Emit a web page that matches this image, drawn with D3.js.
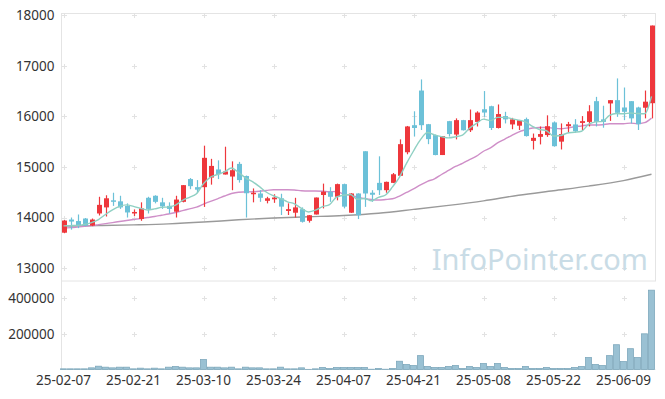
<!DOCTYPE html>
<html>
<head>
<meta charset="utf-8">
<script src="https://cdn.jsdelivr.net/npm/d3@7"></script>
<style>
  body { margin: 0; background: #fff; }
  text { font-family: "Noto Sans", "Open Sans", sans-serif; }
</style>
</head>
<body>
<script>
// trading days (yy-mm-dd)
const dates = [
  "25-02-07", "25-02-10", "25-02-11", "25-02-12", "25-02-13", "25-02-14",
  "25-02-17", "25-02-18", "25-02-19", "25-02-20", "25-02-21",
  "25-02-24", "25-02-25", "25-02-26", "25-02-27", "25-02-28",
  "25-03-04", "25-03-05", "25-03-06", "25-03-07",
  "25-03-10", "25-03-11", "25-03-12", "25-03-13", "25-03-14",
  "25-03-17", "25-03-18", "25-03-19", "25-03-20", "25-03-21",
  "25-03-24", "25-03-25", "25-03-26", "25-03-27", "25-03-28",
  "25-03-31", "25-04-01", "25-04-02", "25-04-03", "25-04-04",
  "25-04-07", "25-04-08", "25-04-09", "25-04-10", "25-04-11",
  "25-04-14", "25-04-15", "25-04-16", "25-04-17", "25-04-18",
  "25-04-21", "25-04-22", "25-04-23", "25-04-24", "25-04-25",
  "25-04-28", "25-04-29", "25-04-30", "25-05-02", "25-05-07",
  "25-05-08", "25-05-09",
  "25-05-12", "25-05-13", "25-05-14", "25-05-15", "25-05-16",
  "25-05-19", "25-05-20", "25-05-21", "25-05-22", "25-05-23",
  "25-05-26", "25-05-27", "25-05-28", "25-05-29", "25-05-30",
  "25-06-02", "25-06-04", "25-06-05",
  "25-06-09", "25-06-10", "25-06-11", "25-06-12", "25-06-13"
];

const opens = [
  13700, 13960, 13930, 13980, 13840, 14080, 14200, 14340, 14320, 14230,
  14080, 13970, 14390, 14430, 14300, 14230, 14115, 14310, 14760, 14600,
  14600, 14790, 14950, 14850, 14810, 15060, 14820, 14460, 14475, 14330,
  14360, 14380, 14130, 14095, 14165, 13935, 14060, 14445, 14510, 14410,
  14660, 14095, 14475, 15310, 14490, 14685, 14540, 14685, 14825, 15290,
  15825, 16510, 15845, 15630, 15235, 15905, 15640, 15925, 15725, 15890,
  16140, 16200, 15770, 16005, 15840, 15815, 15945, 15515, 15595, 15630,
  15880, 15500, 15805, 15840, 15870, 15890, 16300, 15940, 16255, 16320,
  16175, 16300, 16175, 16170, 16260
];
const highs = [
  13950, 14000, 14060, 13990, 13980, 14410, 14440, 14490, 14430, 14280,
  14160, 14300, 14410, 14440, 14390, 14300, 14430, 14640, 14780, 14740,
  15420, 15160, 15130, 15400, 15110, 15100, 14830, 14575, 14540, 14410,
  14460, 14470, 14280, 14390, 14200, 14050, 14395, 14670, 14600, 14670,
  14670, 14480, 14480, 15310, 14540, 15210, 14710, 14880, 15545, 15810,
  16100, 16730, 15850, 15640, 15610, 15910, 15960, 15930, 16135, 16100,
  16500, 16210, 16235, 16090, 15970, 15930, 15975, 15660, 15800, 16020,
  15900, 15860, 15890, 15945, 16005, 16220, 16385, 16210, 16320, 16750,
  16570, 16300, 16190, 16510, 17795
];
const lows = [
  13690, 13760, 13790, 13830, 13830, 14040, 14020, 14230, 14170, 14000,
  14030, 13935, 14080, 14280, 14170, 14080, 14000, 14300, 14560, 14480,
  14210, 14650, 14760, 14850, 14540, 14690, 14000, 14300, 14310, 14280,
  14290, 14050, 14050, 14000, 13900, 13900, 14060, 14180, 14310, 14340,
  14180, 14090, 13970, 14210, 14310, 14445, 14490, 14680, 14820, 15250,
  15600, 15730, 15450, 15230, 15235, 15600, 15545, 15720, 15690, 15800,
  15990, 15730, 15760, 15860, 15745, 15730, 15600, 15345, 15445, 15595,
  15400, 15345, 15675, 15675, 15725, 15800, 15800, 15775, 15910, 15990,
  15925, 15860, 15730, 15960, 15960
];
const closes = [
  13940, 13920, 13850, 13840, 13960, 14250, 14380, 14310, 14200, 14100,
  14110, 14180, 14170, 14310, 14220, 14170, 14355, 14640, 14620, 14550,
  15180, 15020, 14860, 14910, 14935, 14740, 14480, 14490, 14390, 14380,
  14395, 14215, 14165, 14200, 13915, 14045, 14395, 14510, 14410, 14660,
  14215, 14475, 14045, 14475, 14450, 14540, 14705, 14855, 15450, 15800,
  15770, 15825, 15550, 15235, 15610, 15650, 15925, 15725, 15925, 16075,
  16075, 15770, 16045, 15940, 15940, 15925, 15610, 15575, 15650, 15805,
  15410, 15650, 15845, 15705, 15905, 16100, 15890, 15890, 16320, 16070,
  16090, 15960, 15845, 16290, 17795
];
const volumes = [
  3700, 3700, 3700, 3700, 9300, 18500, 13000, 9300, 13000, 13000,
  3700, 7400, 3700, 7400, 3700, 13000, 16700, 13000, 9300, 9300,
  55600, 13000, 13000, 9300, 13000, 3700, 13000, 9300, 9300, 3700,
  3700, 13000, 3700, 3700, 9300, 800, 3700, 11100, 5600, 11100,
  11100, 11100, 11100, 11100, 1500, 5600, 1500, 5600, 46300, 27800,
  22200, 77800, 16700, 11100, 11100, 16700, 22200, 5600, 16700, 11100,
  33300, 16700, 33300, 11100, 5600, 5600, 16700, 5600, 5600, 11100,
  5600, 5600, 5600, 11100, 16700, 66700, 27800, 22200, 77800, 138900,
  44400, 116700, 66700, 200000, 444500
];

// moving averages as seen on the chart
const ma5 = [
  13835, 13840, 13845, 13865, 13900, 13960, 14060, 14150, 14220, 14250,
  14220, 14180, 14150, 14170, 14200, 14210, 14245, 14340, 14400, 14470,
  14670, 14800, 14850, 14900, 14980, 14890, 14785, 14710, 14610, 14500,
  14430, 14375, 14310, 14270, 14180, 14110, 14145, 14215, 14255, 14405,
  14440, 14455, 14360, 14375, 14330, 14400, 14445, 14605, 14800, 15070,
  15315, 15540, 15680, 15635, 15600, 15575, 15595, 15630, 15765, 15860,
  15945, 15915, 15980, 15980, 15955, 15925, 15890, 15800, 15740, 15715,
  15610, 15620, 15670, 15685, 15705, 15840, 15890, 15900, 16020, 16055,
  16050, 16065, 16055, 16050, 16395
];
const ma20 = [
  13790, 13800, 13810, 13825, 13840, 13860, 13880, 13900, 13920, 13940,
  13960, 13980, 14000, 14020, 14045, 14070, 14100, 14135, 14170, 14205,
  14265, 14320, 14370, 14425, 14475, 14500, 14505, 14510, 14520, 14535,
  14550, 14550, 14550, 14545, 14530, 14525, 14525, 14520, 14510, 14515,
  14465, 14440, 14400, 14375, 14355, 14345, 14355, 14370, 14425, 14495,
  14565, 14645, 14715, 14765, 14850, 14930, 15010, 15070, 15145, 15215,
  15310, 15375, 15475, 15545, 15620, 15690, 15735, 15770, 15780, 15780,
  15765, 15755, 15770, 15795, 15810, 15830, 15830, 15835, 15855, 15855,
  15855, 15865, 15855, 15875, 15965
];
// long average, read at a few points along the line
const maLongIdx = [0, 5, 10, 15, 20, 25, 30, 35, 40, 45, 50, 55, 60, 65, 70, 75, 80, 84];
const maLongVals = [
  13830, 13840, 13855, 13875, 13910, 13955, 13990, 14015, 14040, 14085,
  14160, 14240, 14330, 14440, 14530, 14620, 14730, 14855
];

const yTicks = [13000, 14000, 15000, 16000, 17000, 18000];
const volTicks = [200000, 400000];
const xTickLabels = ["25-02-07", "25-02-21", "25-03-10", "25-03-24", "25-04-07",
  "25-04-21", "25-05-08", "25-05-22", "25-06-09"];

// create svg canvas
const canvWidth = 665, canvHeight = 399;
const svg = d3.select("body").append("svg")
    .attr("width", canvWidth)
    .attr("height", canvHeight);

const plot = { left: 61.5, right: 655.5, top: 13.5, mid: 281, bottom: 369.5 };
const upColor = "#ee373c", downColor = "#6cc1d8";

// scales
const x = d3.scaleBand()
    .domain(dates)
    .range([60, 655]);
const cx = d => x(d) + x.bandwidth() / 2;
const y = d3.scaleLinear()
    .domain([12745, 18033])
    .range([plot.mid, plot.top]);
const yVol = d3.scaleLinear()
    .domain([0, 496000])
    .range([plot.bottom, plot.mid]);

// frame lines
const frame = svg.append("g").attr("stroke", "#e4e4e4").attr("stroke-width", 1).attr("fill", "none");
frame.append("rect")
    .attr("x", plot.left).attr("y", plot.top)
    .attr("width", plot.right - plot.left).attr("height", plot.mid - plot.top);
frame.append("line")
    .attr("x1", plot.left).attr("x2", plot.left)
    .attr("y1", plot.mid).attr("y2", plot.bottom);
frame.append("line")
    .attr("x1", plot.left).attr("x2", plot.right)
    .attr("y1", plot.bottom).attr("y2", plot.bottom);

// small "+" marks at the grid crossings
const marks = svg.append("g").attr("stroke", "#e2e2e2").attr("stroke-width", 1);
const markYs = yTicks.map(v => y(v)).concat(volTicks.map(v => yVol(v)));
xTickLabels.forEach(lbl => {
  markYs.forEach(my => {
    const mx = Math.round(cx(lbl)) + 0.5, yy = Math.round(my) + 0.5;
    marks.append("line").attr("x1", mx - 2.5).attr("x2", mx + 2.5).attr("y1", yy).attr("y2", yy);
    marks.append("line").attr("x1", mx).attr("x2", mx).attr("y1", yy - 2.5).attr("y2", yy + 2.5);
  });
});

// watermark
svg.append("text")
    .attr("x", 648)
    .attr("y", 270)
    .attr("text-anchor", "end")
    .attr("font-size", "29px")
    .attr("fill", "#c9dce6")
    .text("InfoPointer.com");

// volume bars
svg.append("g").selectAll("rect")
    .data(dates)
    .enter()
    .append("rect")
    .attr("x", d => x(d) + 0.5)
    .attr("y", (d, i) => yVol(volumes[i]))
    .attr("width", x.bandwidth() - 1)
    .attr("height", (d, i) => plot.bottom - yVol(volumes[i]))
    .attr("fill", "#9ac1d3")
    .attr("stroke", "#7ea8bc")
    .attr("stroke-width", 0.8);

// moving average lines
function drawLine(idx, vals, color) {
  const line = d3.line()
      .x(i => cx(dates[i]))
      .y((i, k) => y(vals[k]))
      .curve(d3.curveMonotoneX);
  svg.append("path")
      .datum(idx)
      .attr("d", line)
      .attr("fill", "none")
      .attr("stroke", color)
      .attr("stroke-width", 1.4);
}
drawLine(maLongIdx, maLongVals, "#9a9a9a");
drawLine(d3.range(dates.length), ma20, "#cf8fc8");

// candles
const candles = svg.append("g").selectAll("g")
    .data(dates)
    .enter()
    .append("g");
candles.append("line")
    .attr("x1", d => Math.round(cx(d)) + 0.5)
    .attr("x2", d => Math.round(cx(d)) + 0.5)
    .attr("y1", (d, i) => y(highs[i]))
    .attr("y2", (d, i) => y(lows[i]))
    .attr("stroke", (d, i) => closes[i] >= opens[i] ? upColor : downColor)
    .attr("stroke-width", 1.2);
candles.append("rect")
    .attr("x", d => Math.round(cx(d)) + 0.5 - 2.5)
    .attr("y", (d, i) => y(Math.max(opens[i], closes[i])))
    .attr("width", 5)
    .attr("height", (d, i) => Math.max(1.2, Math.abs(y(opens[i]) - y(closes[i]))))
    .attr("fill", (d, i) => closes[i] >= opens[i] ? upColor : downColor);

drawLine(d3.range(dates.length), ma5, "#8fd0c3");

// axes
const yAxis = d3.axisLeft(y).tickValues(yTicks).tickSize(0).tickPadding(7).tickFormat(d3.format("d"));
const yAxisG = svg.append("g")
    .attr("transform", "translate(" + plot.left + ",0)")
    .call(yAxis);
const volAxis = d3.axisLeft(yVol).tickValues(volTicks).tickSize(0).tickPadding(7).tickFormat(d3.format("d"));
const volAxisG = svg.append("g")
    .attr("transform", "translate(" + plot.left + ",0)")
    .call(volAxis);
const xAxis = d3.axisBottom(x).tickValues(xTickLabels).tickSize(0).tickPadding(6);
const xAxisG = svg.append("g")
    .attr("transform", "translate(0," + plot.bottom + ")")
    .call(xAxis);

[yAxisG, volAxisG, xAxisG].forEach(g => {
  g.select(".domain").remove();
  g.selectAll("text")
      .attr("font-family", "'Noto Sans', 'Open Sans', sans-serif")
      .attr("font-size", "13.5px")
      .attr("fill", "#333");
});
</script>
</body>
</html>
